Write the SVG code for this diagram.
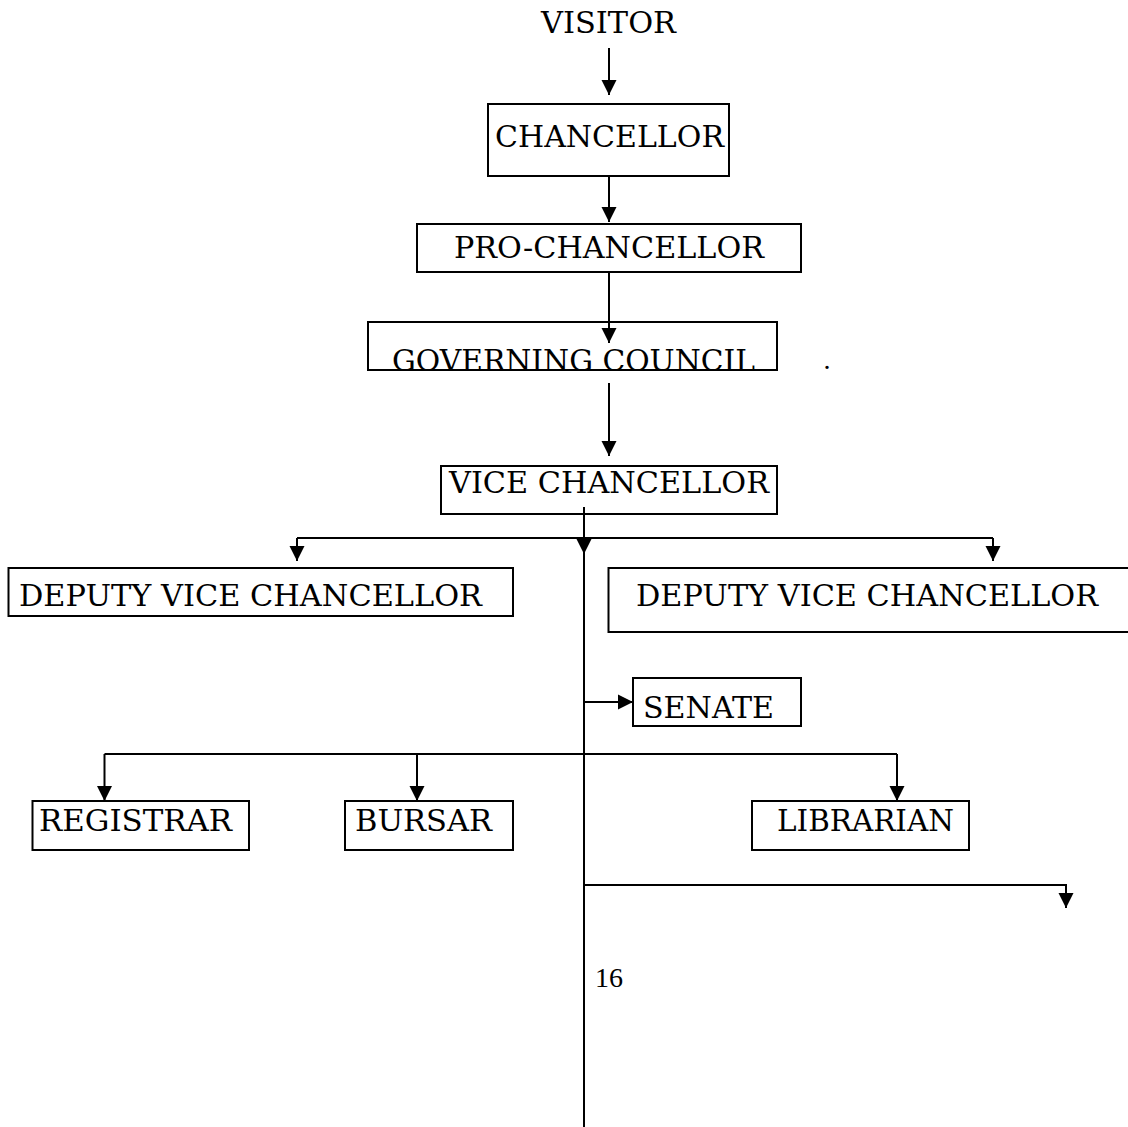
<svg xmlns="http://www.w3.org/2000/svg" width="1128" height="1127" viewBox="0 0 1128 1127">
<style>
.box{fill:none;stroke:#000;stroke-width:2}
.lbl{font-family:"DejaVu Serif","Liberation Serif",serif;font-size:30px;fill:#000}
.num{font-family:"Liberation Serif",serif;font-size:28px;fill:#000}
.ln{fill:none;stroke:#000;stroke-width:2}
.arr{fill:none;stroke:#000;stroke-width:2;marker-end:url(#ah)}
</style>
<defs>
<marker id="ah" markerUnits="userSpaceOnUse" markerWidth="16" markerHeight="16" refX="15" refY="8" orient="auto" viewBox="0 0 16 16">
<path d="M0,0.5 L15,8 L0,15.5 z" fill="#000"/>
</marker>
<clipPath id="govclip"><rect x="360" y="300" width="430" height="70.5"/></clipPath>
</defs>
<rect width="1128" height="1127" fill="#fff"/>

<g id="visitor">
<text class="lbl" x="541" y="33" textLength="135" lengthAdjust="spacingAndGlyphs">VISITOR</text>
</g>
<g id="chancellor">
<rect class="box" x="488" y="104" width="241" height="72"/>
<text class="lbl" x="495" y="147" textLength="229" lengthAdjust="spacingAndGlyphs">CHANCELLOR</text>
</g>
<g id="pro-chancellor">
<rect class="box" x="417" y="224" width="384" height="48"/>
<text class="lbl" x="454" y="258" textLength="310" lengthAdjust="spacingAndGlyphs">PRO-CHANCELLOR</text>
</g>
<g id="governing-council">
<text class="lbl" x="392" y="371" textLength="363" lengthAdjust="spacingAndGlyphs" clip-path="url(#govclip)">GOVERNING COUNCIL</text>
<rect class="box" x="368" y="322" width="409" height="48"/>
<text class="num" x="823.5" y="369" font-size="9px">.</text>
</g>
<g id="vice-chancellor">
<rect class="box" x="441" y="466" width="336" height="48"/>
<text class="lbl" x="449" y="493" textLength="320" lengthAdjust="spacingAndGlyphs">VICE CHANCELLOR</text>
</g>
<g id="dvc-left">
<rect class="box" x="8.5" y="568" width="504.5" height="48"/>
<text class="lbl" x="19" y="606" textLength="463" lengthAdjust="spacingAndGlyphs">DEPUTY VICE CHANCELLOR</text>
</g>
<g id="dvc-right">
<rect class="box" x="608.5" y="568" width="525" height="64"/>
<text class="lbl" x="636" y="606" textLength="462" lengthAdjust="spacingAndGlyphs">DEPUTY VICE CHANCELLOR</text>
</g>
<g id="senate">
<rect class="box" x="633" y="678" width="168" height="48"/>
<text class="lbl" x="643" y="718" textLength="131" lengthAdjust="spacingAndGlyphs">SENATE</text>
</g>
<g id="registrar">
<rect class="box" x="32.5" y="801" width="216.5" height="49"/>
<text class="lbl" x="39" y="831" textLength="193" lengthAdjust="spacingAndGlyphs">REGISTRAR</text>
</g>
<g id="bursar">
<rect class="box" x="345" y="801" width="168" height="49"/>
<text class="lbl" x="355" y="831" textLength="137" lengthAdjust="spacingAndGlyphs">BURSAR</text>
</g>
<g id="librarian">
<rect class="box" x="752" y="801" width="217" height="49"/>
<text class="lbl" x="777" y="831" textLength="177" lengthAdjust="spacingAndGlyphs">LIBRARIAN</text>
</g>
<g id="page-number">
<text class="num" x="595" y="987">16</text>
</g>

<g id="connectors">
<path class="arr" d="M609,48 V95"/>
<path class="arr" d="M609,176 V222"/>
<path class="arr" d="M609,272 V343"/>
<path class="arr" d="M609,383 V456"/>
<path class="ln" d="M584,507 V1127"/>
<path class="ln" d="M297,538 H993"/>
<path class="arr" d="M297,538 V561"/>
<path class="arr" d="M993,538 V561"/>
<path class="arr" d="M584,538 V554"/>
<path class="arr" d="M584,702 H633"/>
<path class="ln" d="M104.5,754 H897"/>
<path class="arr" d="M104.5,754 V801"/>
<path class="arr" d="M417,754 V801"/>
<path class="arr" d="M897,754 V801"/>
<path class="arr" d="M584,885 H1066 V908"/>
</g>
</svg>
